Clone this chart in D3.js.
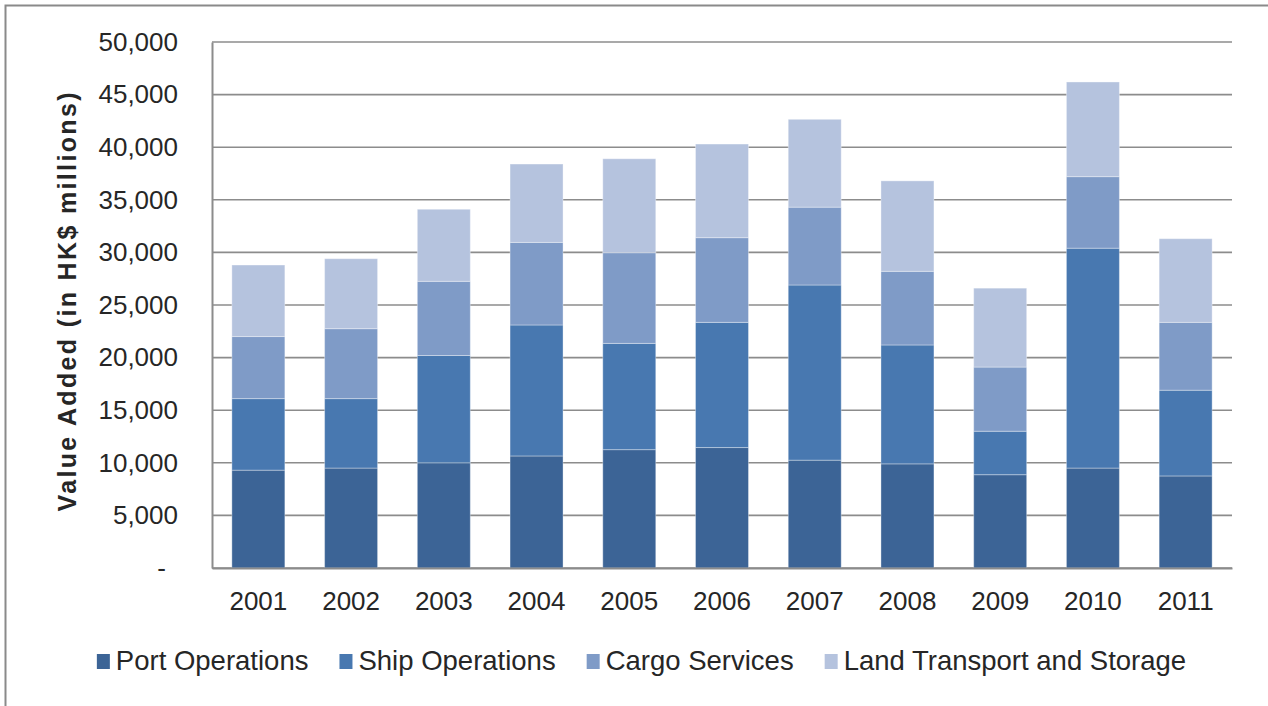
<!DOCTYPE html>
<html>
<head>
<meta charset="utf-8">
<script src="https://cdn.jsdelivr.net/npm/d3@7"></script>
<style>
  body { margin: 0; background: #fff; }
  text { font-family: "Liberation Sans", Arial, sans-serif; fill: #262626; }
</style>
</head>
<body>
<div id="chart"></div>
<script>
(function () {
  // Data

  const years = ["2001", "2002", "2003", "2004", "2005", "2006", "2007", "2008", "2009", "2010", "2011"];
  const seriesNames = ["Port Operations", "Ship Operations", "Cargo Services", "Land Transport and Storage"];
  const portOps = [9300, 9500, 10000, 10650, 11250, 11450, 10250, 9900, 8870, 9500, 8750];
  const shipOps = [6800, 6600, 10200, 12450, 10100, 11900, 16650, 11300, 4130, 20900, 8150];
  const cargoServices = [5900, 6650, 7050, 7850, 8620, 8050, 7400, 7000, 6100, 6800, 6450];
  const landTransport = [6800, 6650, 6850, 7450, 8930, 8900, 8350, 8600, 7500, 9000, 7950];
  const yTicks = [0, 5000, 10000, 15000, 20000, 25000, 30000, 35000, 40000, 45000, 50000];

  const colors = ["#3c6496", "#4878b0", "#7f9bc7", "#b5c3de"];

  // Config

  const width = 1268;
  const height = 706;
  const margin = { top: 42, bottom: 138, left: 212, right: 36 };

  const svg = d3.select("#chart")
    .append("svg")
    .attr("width", width)
    .attr("height", height);

  // outer frame (right and bottom edges fall outside the picture)
  svg.append("rect")
    .attr("x", 5.5).attr("y", 5.5)
    .attr("width", width + 20).attr("height", height + 20)
    .attr("fill", "none")
    .attr("stroke", "#8a8a8a")
    .attr("stroke-width", 2);

  // Build stack table

  const table = years.map((y, i) => ({
    year: y,
    "Port Operations": portOps[i],
    "Ship Operations": shipOps[i],
    "Cargo Services": cargoServices[i],
    "Land Transport and Storage": landTransport[i]
  }));

  const stacked = d3.stack().keys(seriesNames)(table);

  // Scales

  const xScale = d3.scaleBand()
    .domain(years)
    .range([margin.left, width - margin.right])
    .paddingInner(0.4286)
    .paddingOuter(0.2143);

  const yScale = d3.scaleLinear()
    .domain([0, 50000])
    .range([height - margin.bottom, margin.top]);

  // Gridlines

  svg.append("g")
    .selectAll("line")
    .data(yTicks)
    .join("line")
    .attr("x1", margin.left)
    .attr("x2", width - margin.right)
    .attr("y1", d => yScale(d))
    .attr("y2", d => yScale(d))
    .attr("stroke", "#8c8c8c")
    .attr("stroke-width", 1.6);

  // Bars

  svg.append("g")
    .selectAll("g")
    .data(stacked)
    .join("g")
    .attr("fill", (d, i) => colors[i])
    .selectAll("rect")
    .data(d => d)
    .join("rect")
    .attr("x", d => xScale(d.data.year))
    .attr("y", d => yScale(d[1]))
    .attr("width", xScale.bandwidth())
    .attr("height", d => yScale(d[0]) - yScale(d[1]))
    .attr("stroke", "rgba(255,255,255,0.35)")
    .attr("stroke-width", 1);

  // Axes

  const yAxis = d3.axisLeft(yScale)
    .tickValues(yTicks)
    .tickSize(0)
    .tickPadding(34)
    .tickFormat(d => d === 0 ? "-" : d3.format(",")(d));

  const gy = svg.append("g")
    .attr("transform", "translate(" + margin.left + ",0)")
    .call(yAxis);

  gy.select(".domain").attr("stroke", "#8c8c8c").attr("stroke-width", 2);
  gy.selectAll(".tick text")
    .attr("font-size", 26)
    .attr("fill", "#262626")
    .attr("dx", d => d === 0 ? -12 : 0);

  const xAxis = d3.axisBottom(xScale).tickSize(0).tickPadding(24);

  const gx = svg.append("g")
    .attr("transform", "translate(0," + (height - margin.bottom) + ")")
    .call(xAxis);

  gx.select(".domain").attr("stroke", "#8c8c8c").attr("stroke-width", 2);
  gx.selectAll(".tick text")
    .attr("font-size", 26)
    .attr("fill", "#262626");

  // Y axis title

  svg.append("text")
    .attr("transform", "translate(76,302) rotate(-90)")
    .attr("text-anchor", "middle")
    .attr("font-size", 25)
    .attr("font-weight", "bold")
    .attr("textLength", 419)
    .attr("lengthAdjust", "spacing")
    .text("Value Added (in HK$ millions)");

  // Legend

  const legend = svg.append("g");
  let lx = 0;
  seriesNames.forEach((name, i) => {
    const item = legend.append("g").attr("transform", "translate(" + lx + ",0)");
    item.append("rect")
      .attr("x", 0).attr("y", -16)
      .attr("width", 13).attr("height", 15)
      .attr("fill", colors[i]);
    const t = item.append("text")
      .attr("x", 19).attr("y", 0)
      .attr("font-size", 27.5)
      .text(name);
    lx += 19 + t.node().getComputedTextLength() + 31;
  });
  const legendWidth = lx - 31;
  legend.attr("transform", "translate(" + (641.5 - legendWidth / 2) + ",670)");
})();
</script>
</body>
</html>
